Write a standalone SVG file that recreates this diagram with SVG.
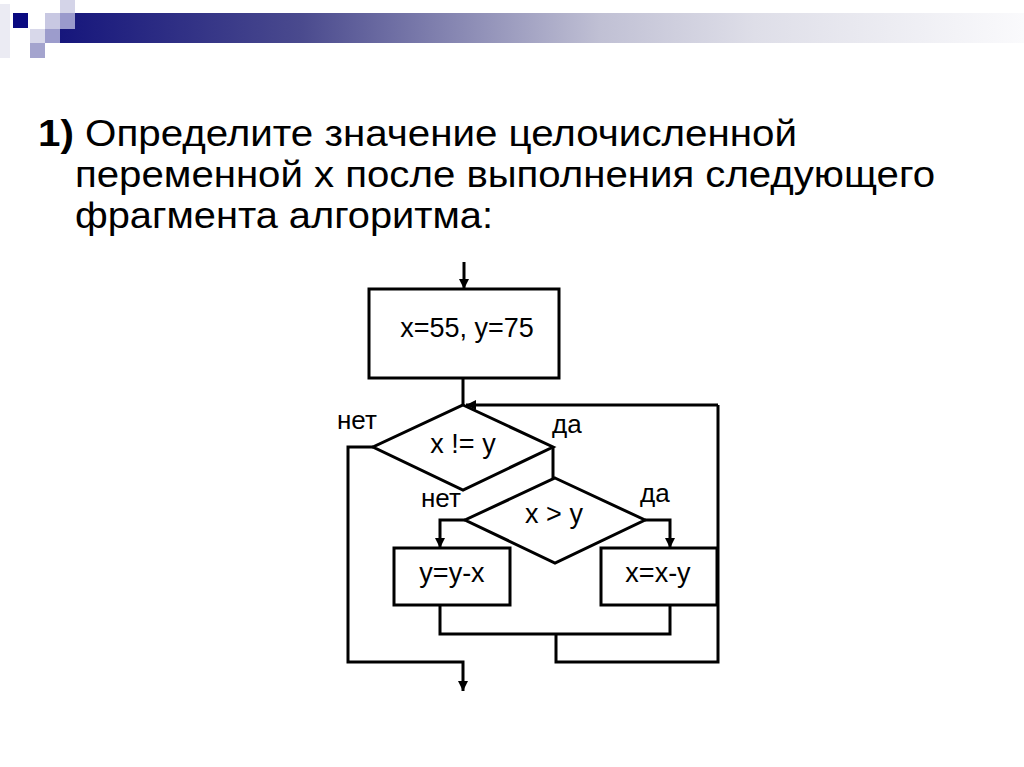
<svg xmlns="http://www.w3.org/2000/svg" width="1024" height="767" viewBox="0 0 1024 767">
<defs>
<linearGradient id="bar" x1="60" y1="0" x2="1024" y2="0" gradientUnits="userSpaceOnUse">
<stop offset="0" stop-color="#16167c"/>
<stop offset="0.25" stop-color="#4a4a8e"/>
<stop offset="0.56" stop-color="#c0c0d4"/>
<stop offset="0.72" stop-color="#dedee8"/>
<stop offset="1" stop-color="#fafafc"/>
</linearGradient>
<marker id="ah" viewBox="0 0 10 10" refX="10" refY="5" markerWidth="10" markerHeight="11" markerUnits="userSpaceOnUse" orient="auto">
<path d="M0,0 L10,5 L0,10 Z" fill="#000"/>
</marker>
</defs>
<style>
.ln{fill:none;stroke:#000;stroke-width:3;stroke-linejoin:miter}
.shape{fill:#fff;stroke:#000;stroke-width:3}
.t{font-family:"Liberation Sans",Arial,sans-serif;font-size:27px;fill:#000}
.lbl{font-family:"Liberation Sans",Arial,sans-serif;font-size:26px;fill:#000}
.title{font-family:"Liberation Sans",Arial,sans-serif;font-size:37px;fill:#000}
</style>
<rect width="1024" height="767" fill="#fff"/>
<g id="header">
<rect x="0" y="4" width="10" height="54" fill="#ebebf3"/>
<rect x="60" y="13" width="964" height="30" fill="url(#bar)"/>
<rect x="13" y="13" width="15" height="15" fill="#0a0a80"/>
<rect x="45" y="13" width="15" height="16" fill="#c8c8e2"/>
<rect x="60" y="0" width="15" height="13" fill="#d4d4e8"/>
<rect x="60" y="13" width="15" height="16" fill="#9a9acc"/>
<rect x="30" y="29" width="15" height="14" fill="#d8d8ea"/>
<rect x="45" y="29" width="15" height="14" fill="#9c9ccc"/>
<rect x="30" y="43" width="15" height="15" fill="#a4a4ce"/>
</g>
<g id="title">
<text class="title" x="38" y="146" textLength="759" lengthAdjust="spacingAndGlyphs"><tspan font-weight="bold">1)</tspan> Определите значение целочисленной</text>
<text class="title" x="75" y="187" textLength="860" lengthAdjust="spacingAndGlyphs">переменной x после выполнения следующего</text>
<text class="title" x="75" y="228" textLength="418" lengthAdjust="spacingAndGlyphs">фрагмента алгоритма:</text>
</g>
<g id="connectors">
<line class="ln" x1="464" y1="262" x2="464" y2="289" marker-end="url(#ah)"/>
<line class="ln" x1="463" y1="378" x2="463" y2="405"/>
<polyline class="ln" points="718,405 718,662 556,662 556,634"/>
<line class="ln" x1="718" y1="405" x2="466" y2="405" marker-end="url(#ah)"/>
<polyline class="ln" points="440,605 440,634 670,634 670,605"/>
<polyline class="ln" points="373,447 348,447 348,662 463,662 463,691" marker-end="url(#ah)"/>
<line class="ln" x1="553" y1="447" x2="553" y2="478"/>
<polyline class="ln" points="465,520 440,520 440,548" marker-end="url(#ah)"/>
<polyline class="ln" points="645,520 670,520 670,548" marker-end="url(#ah)"/>
</g>
<g id="n_init">
<rect class="shape" x="369" y="289" width="190" height="89"/>
<text class="t" x="467" y="337" text-anchor="middle">x=55, y=75</text>
</g>
<g id="n_cond1">
<polygon class="shape" points="463,405 553,447 463,490 373,447"/>
<text class="t" x="463" y="453" text-anchor="middle" xml:space="preserve">x != y</text>
</g>
<g id="n_cond2">
<polygon class="shape" points="555,478 645,520 555,563 465,520"/>
<text class="t" x="554" y="523" text-anchor="middle">x &gt; y</text>
</g>
<g id="n_yyx">
<rect class="shape" x="394" y="548" width="116" height="57"/>
<text class="t" x="452" y="582" text-anchor="middle">y=y-x</text>
</g>
<g id="n_xxy">
<rect class="shape" x="601" y="548" width="116" height="57"/>
<text class="t" x="658" y="582" text-anchor="middle">x=x-y</text>
</g>
<g id="labels">
<text class="lbl" x="337" y="429">нет</text>
<text class="lbl" x="552" y="433">да</text>
<text class="lbl" x="421" y="507">нет</text>
<text class="lbl" x="640" y="502">да</text>
</g>
</svg>
